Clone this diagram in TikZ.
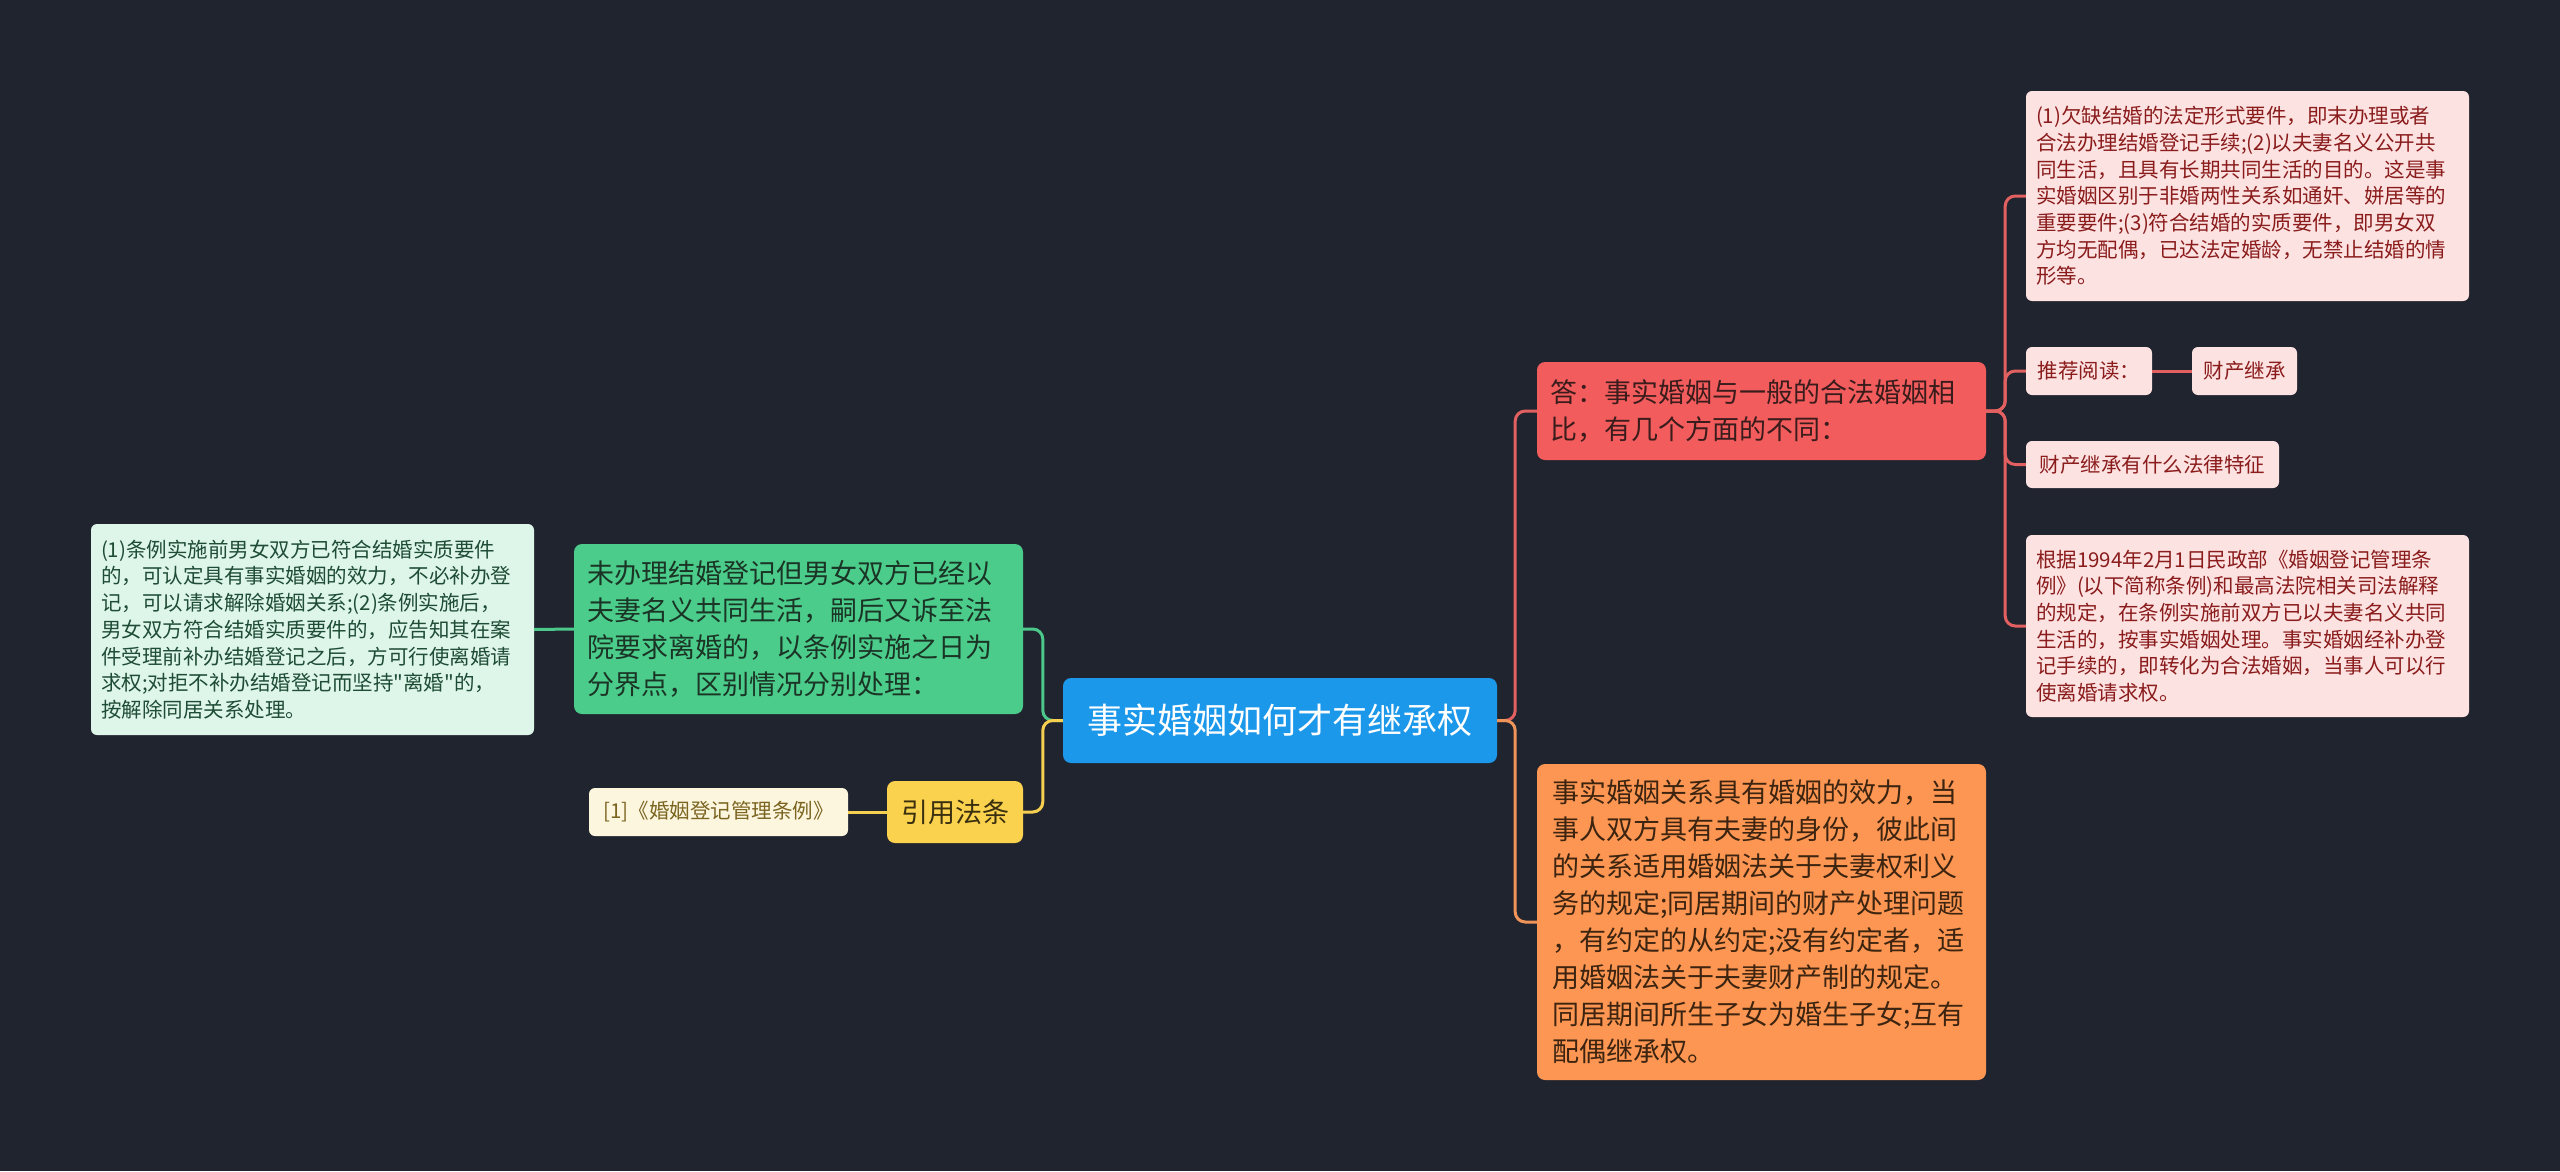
\documentclass[tikz,border=0pt]{standalone}
\usepackage{fontspec}
\setmainfont{Noto Sans CJK SC}
\newfontfamily\plainfont{Noto Sans CJK SC}
\definecolor{bg}{RGB}{32,36,47}
\definecolor{rootblue}{RGB}{28,152,234}
\definecolor{ansred}{RGB}{243,92,92}
\definecolor{anstext}{RGB}{58,28,28}
\definecolor{pinkfill}{RGB}{253,226,226}
\definecolor{pinktext}{RGB}{138,28,28}
\definecolor{redline}{RGB}{226,96,96}
\definecolor{orangefill}{RGB}{252,150,82}
\definecolor{orangetext}{RGB}{60,36,16}
\definecolor{orangeline}{RGB}{240,148,90}
\definecolor{greenfill}{RGB}{76,204,138}
\definecolor{greentext}{RGB}{26,52,38}
\definecolor{lgreenfill}{RGB}{222,245,234}
\definecolor{lgreentext}{RGB}{30,76,52}
\definecolor{greenline}{RGB}{76,201,138}
\definecolor{yellowfill}{RGB}{251,210,78}
\definecolor{yellowtext}{RGB}{58,48,16}
\definecolor{lyellowfill}{RGB}{253,246,222}
\definecolor{lyellowtext}{RGB}{122,100,32}
\definecolor{yellowline}{RGB}{245,207,80}
\begin{document}
\begin{tikzpicture}[x=1pt,y=-1pt,
  box/.style={rounded corners=8pt, inner ysep=0pt, align=left},
  single/.style={box, align=center, inner xsep=0pt},
  big/.style={font=\fontsize{27}{37}\selectfont},
  small/.style={font=\fontsize{20.5}{26.7}\selectfont},
  conn/.style={line width=3pt, rounded corners=10pt}
]
\fill[bg] (0,0) rectangle (2560,1171);
\useasboundingbox (0,0) rectangle (2560,1171);

% root
\node[single, fill=rootblue, text=white, font=\fontsize{35}{42}\selectfont,
  minimum width=434pt, minimum height=85pt] (root) at (1280,720.5) {事实婚姻如何才有继承权};

% right branch
\node[box, big, fill=ansred, text=anstext, text width=423pt, inner xsep=13pt,
  minimum height=98pt] (ans) at (1761.5,411)
  {答：事实婚姻与一般的合法婚姻相\\比，有几个方面的不同：};
\node[box, big, fill=orangefill, text=orangetext, text width=419pt, inner xsep=15pt,
  minimum height=316pt] (eff) at (1761.5,922)
  {事实婚姻关系具有婚姻的效力，当\\事人双方具有夫妻的身份，彼此间\\的关系适用婚姻法关于夫妻权利义\\务的规定;同居期间的财产处理问题\\，有约定的从约定;没有约定者，适\\用婚姻法关于夫妻财产制的规定。\\同居期间所生子女为婚生子女;互有\\配偶继承权。};

\node[box, small, rounded corners=6pt, fill=pinkfill, text=pinktext, text width=423pt, inner xsep=10pt,
  minimum height=210pt] (c1) at (2247.5,196)
  {(1)欠缺结婚的法定形式要件，即末办理或者\\合法办理结婚登记手续;(2)以夫妻名义公开共\\同生活，且具有长期共同生活的目的。这是事\\实婚姻区别于非婚两性关系如通奸、姘居等的\\重要要件;(3)符合结婚的实质要件，即男女双\\方均无配偶，已达法定婚龄，无禁止结婚的情\\形等。};
\node[single, small, rounded corners=6pt, fill=pinkfill, text=pinktext,
  minimum width=126pt, minimum height=48pt] (c2) at (2089,371) {推荐阅读：};
\node[single, small, rounded corners=6pt, fill=pinkfill, text=pinktext,
  minimum width=105pt, minimum height=48pt] (c2b) at (2244.5,371) {财产继承};
\node[single, small, rounded corners=6pt, fill=pinkfill, text=pinktext,
  minimum width=253pt, minimum height=47pt] (c3) at (2152.5,464.5) {财产继承有什么法律特征};
\node[box, small, rounded corners=6pt, fill=pinkfill, text=pinktext, text width=423pt, inner xsep=10pt,
  minimum height=182pt] (c4) at (2247.5,626)
  {根据1994年2月1日民政部《婚姻登记管理条\\例》(以下简称条例)和最高法院相关司法解释\\的规定，在条例实施前双方已以夫妻名义共同\\生活的，按事实婚姻处理。事实婚姻经补办登\\记手续的，即转化为合法婚姻，当事人可以行\\使离婚请求权。};

% left branch
\node[box, big, fill=greenfill, text=greentext, text width=423pt, inner xsep=13pt,
  minimum height=170pt] (unreg) at (798.5,629)
  {未办理结婚登记但男女双方已经以\\夫妻名义共同生活，嗣后又诉至法\\院要求离婚的，以条例实施之日为\\分界点，区别情况分别处理：};
\node[box, small, rounded corners=6pt, fill=lgreenfill, text=lgreentext, text width=423pt, inner xsep=10pt,
  minimum height=211pt] (detail) at (312.5,629.5)
  {(1)条例实施前男女双方已符合结婚实质要件\\的，可认定具有事实婚姻的效力，不必补办登\\记，可以请求解除婚姻关系;(2)条例实施后，\\男女双方符合结婚实质要件的，应告知其在案\\件受理前补办结婚登记之后，方可行使离婚请\\求权;对拒不补办结婚登记而坚持{\plainfont"离婚"}的，\\按解除同居关系处理。};
\node[single, big, fill=yellowfill, text=yellowtext,
  minimum width=136pt, minimum height=62pt] (law) at (955,812) {引用法条};
\node[single, small, rounded corners=6pt, fill=lyellowfill, text=lyellowtext,
  minimum width=259pt, minimum height=48pt] (ref) at (718.5,812) {[1]《婚姻登记管理条例》};

% connectors
\draw[conn, redline] (root.east) -- ++(18,0) |- (ans.west);
\draw[conn, orangeline] (root.east) -- ++(18,0) |- (eff.west);
\draw[conn, redline] (ans.east) -- ++(19,0) |- (c1.west);
\draw[conn, redline] (ans.east) -- ++(19,0) |- (c2.west);
\draw[conn, redline] (ans.east) -- ++(19,0) |- (c3.west);
\draw[conn, redline] (ans.east) -- ++(19,0) |- (c4.west);
\draw[conn, redline] (c2.east) -- (c2b.west);
\draw[conn, greenline] (root.west) -- ++(-20,0) |- (unreg.east);
\draw[conn, yellowline] (root.west) -- ++(-20,0) |- (law.east);
\draw[conn, greenline] (unreg.west) -- (detail.east);
\draw[conn, yellowline] (law.west) -- (ref.east);
\end{tikzpicture}
\end{document}
